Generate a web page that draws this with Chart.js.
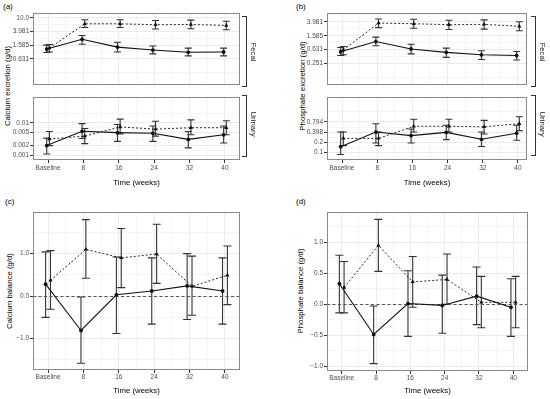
<!DOCTYPE html>
<html>
<head>
<meta charset="utf-8">
<script src="https://cdn.jsdelivr.net/npm/chart.js@4.4.1/dist/chart.umd.min.js"></script>
<style>
  body { margin: 0; background: #fff; width: 550px; height: 399px; position: relative; overflow: hidden;
         font-family: "Liberation Sans", Arial, sans-serif; -webkit-font-smoothing: antialiased; }
  canvas { position: absolute; }
  .lab { position: absolute; font-size: 8px; color: #000; line-height: 9px; }
  .yt { position: absolute; font-size: 7.8px; color: #000; white-space: nowrap; transform: translate(-50%, -50%) rotate(-90deg); }
  .strip { position: absolute; box-sizing: border-box; border: 1.2px solid #333; border-left: none; width: 5px; }
  .st { position: absolute; font-size: 7.8px; color: #1a1a1a; white-space: nowrap; transform: translate(-50%, -50%) rotate(90deg); filter: grayscale(1); }
</style>
</head>
<body>
<div class="lab" style="left:3px;top:2px">(a)</div>
<div class="lab" style="left:296px;top:2px">(b)</div>
<div class="lab" style="left:5px;top:197px">(c)</div>
<div class="lab" style="left:296px;top:197px">(d)</div>

<div class="yt" style="left:7px;top:86px">Calcium excretion (g/d)</div>
<div class="yt" style="left:302px;top:86px">Phosphate excretion (g/d)</div>
<div class="yt" style="left:9px;top:291px">Calcium balance (g/d)</div>
<div class="yt" style="left:300px;top:291px">Phosphate balance (g/d)</div>

<div class="strip" style="left:242px;top:16px;height:71px"></div>
<div class="strip" style="left:242px;top:95px;height:62px"></div>
<div class="strip" style="left:531px;top:16px;height:71px"></div>
<div class="strip" style="left:531px;top:95px;height:61px"></div>
<div class="st" style="left:253px;top:52px">Fecal</div>
<div class="st" style="left:253px;top:124px">Urinary</div>
<div class="st" style="left:542px;top:52px">Fecal</div>
<div class="st" style="left:542px;top:124px">Urinary</div>

<canvas id="aF" width="244" height="90" style="left:0;top:0"></canvas>
<canvas id="aU" width="244" height="106" style="left:0;top:92px"></canvas>
<canvas id="bF" width="256" height="90" style="left:275px;top:0"></canvas>
<canvas id="bU" width="256" height="106" style="left:275px;top:92px"></canvas>
<canvas id="c" width="244" height="194" style="left:0;top:205px"></canvas>
<canvas id="d" width="256" height="194" style="left:275px;top:205px"></canvas>

<script>
const weeks = [0, 8, 16, 24, 32, 40];
const xMajor = [0, 8, 16, 24, 32, 40];
const xLabels = ['Baseline', '8', '16', '24', '32', '40'];
const xMinor = [4, 12, 20, 28, 36];

// (a) calcium excretion - fecal
const caFecalSolid = [1.22, 2.35, 1.39, 1.14, 0.98, 1.0];
const caFecalSolidLo = [0.97, 1.69, 1.0, 0.88, 0.77, 0.77];
const caFecalSolidHi = [1.585, 3.05, 1.93, 1.5, 1.3, 1.3];
const caFecalDot = [1.3, 6.7, 6.7, 6.3, 6.4, 6.0];
const caFecalDotLo = [1.0, 5.2, 5.2, 4.7, 4.8, 4.5];
const caFecalDotHi = [1.66, 8.8, 8.8, 8.4, 8.6, 8.0];
const caFecalTicks = [0.631, 1.585, 3.981, 10];
const caFecalTickLabels = ['0.631', '1.585', '3.981', '10.0'];
const caFecalMinor = [0.251, 1, 2.512, 6.31];

// (a) calcium excretion - urinary
const caUrSolid = [0.0020, 0.0055, 0.0050, 0.0048, 0.0031, 0.0043];
const caUrSolidLo = [0.0011, 0.0033, 0.0027, 0.0027, 0.0017, 0.0024];
const caUrSolidHi = [0.0034, 0.0095, 0.0089, 0.0080, 0.0054, 0.0080];
const caUrDot = [0.0032, 0.0039, 0.0075, 0.0064, 0.0071, 0.0071];
const caUrDotLo = [0.0020, 0.0023, 0.0046, 0.0039, 0.0043, 0.0043];
const caUrDotHi = [0.0054, 0.0067, 0.0130, 0.0112, 0.0124, 0.0116];
const caUrTicks = [0.001, 0.002, 0.005, 0.01];
const caUrTickLabels = ['0.001', '0.002', '0.005', '0.01'];
const caUrMinor = [0.00141, 0.00316, 0.00707, 0.02];

// (b) phosphate excretion - fecal
const pFecalSolid = [0.55, 1.08, 0.66, 0.53, 0.45, 0.43];
const pFecalSolidLo = [0.43, 0.82, 0.48, 0.38, 0.33, 0.32];
const pFecalSolidHi = [0.73, 1.45, 0.90, 0.70, 0.59, 0.56];
const pFecalDot = [0.62, 3.66, 3.5, 3.28, 3.35, 2.96];
const pFecalDotLo = [0.45, 2.7, 2.6, 2.4, 2.45, 2.2];
const pFecalDotHi = [0.78, 4.8, 4.7, 4.4, 4.5, 4.0];
const pFecalTicks = [0.251, 0.631, 1.585, 3.981];
const pFecalTickLabels = ['0.251', '0.631', '1.585', '3.981'];
const pFecalMinor = [0.1, 0.398, 1, 2.512, 6.31];

// (b) phosphate excretion - urinary
const pUrSolid = [0.149, 0.40, 0.315, 0.39, 0.245, 0.37];
const pUrSolidLo = [0.088, 0.19, 0.19, 0.24, 0.15, 0.23];
const pUrSolidHi = [0.40, 0.70, 0.49, 0.63, 0.40, 0.63];
const pUrDot = [0.26, 0.26, 0.59, 0.59, 0.57, 0.70];
const pUrDotLo = [0.16, 0.16, 0.40, 0.40, 0.35, 0.44];
const pUrDotHi = [0.40, 0.40, 0.95, 0.95, 0.88, 1.13];
const pUrTicks = [0.1, 0.2, 0.398, 0.794];
const pUrTickLabels = ['0.1', '0.2', '0.398', '0.794'];
const pUrMinor = [0.141, 0.282, 0.562, 1.585, 3.162];

// (c) calcium balance
const caBalSolid = [0.28, -0.81, 0.03, 0.12, 0.24, 0.12];
const caBalSolidLo = [-0.50, -1.58, -0.88, -0.66, -0.55, -0.66];
const caBalSolidHi = [1.04, -0.02, 0.92, 0.90, 1.00, 0.90];
const caBalDot = [0.37, 1.10, 0.90, 0.99, 0.23, 0.49];
const caBalDotLo = [-0.31, 0.42, 0.20, 0.30, -0.45, -0.20];
const caBalDotHi = [1.07, 1.80, 1.59, 1.69, 0.94, 1.18];
const caBalTicks = [-1, 0, 1];
const caBalTickLabels = ['\u22121.0', '0.0', '1.0'];
const caBalMinor = [-1.5, -0.5, 0.5, 1.5];

// (d) phosphate balance
const pBalSolid = [0.33, -0.49, 0.01, -0.02, 0.13, -0.05];
const pBalSolidLo = [-0.14, -0.96, -0.52, -0.47, -0.33, -0.52];
const pBalSolidHi = [0.79, -0.03, 0.54, 0.47, 0.60, 0.41];
const pBalDot = [0.27, 0.95, 0.36, 0.40, 0.03, 0.03];
const pBalDotLo = [-0.14, 0.53, -0.05, 0.0, -0.38, -0.38];
const pBalDotHi = [0.69, 1.37, 0.77, 0.81, 0.45, 0.45];
const pBalTicks = [-1, -0.5, 0, 0.5, 1];
const pBalTickLabels = ['\u22121.0', '\u22120.5', '0.0', '0.5', '1.0'];
const pBalMinor = [-0.75, -0.25, 0.25, 0.75, 1.25];

const tickFont = { family: '"Liberation Sans", Arial, sans-serif', size: 6.5 };
const titleFont = { family: '"Liberation Sans", Arial, sans-serif', size: 7.8 };

// error bars drawn from each dataset's lo/hi arrays
const errorBars = {
  id: 'errorBars',
  beforeDatasetsDraw(chart, args, opts) {
    const { ctx, scales: { x, y } } = chart;
    ctx.save();
    ctx.strokeStyle = '#333';
    ctx.lineWidth = 1.1;
    chart.data.datasets.forEach(ds => {
      ds.data.forEach((p, i) => {
        const px = x.getPixelForValue(p.x);
        const top = y.getPixelForValue(ds.hi[i]);
        const bot = y.getPixelForValue(ds.lo[i]);
        ctx.beginPath();
        ctx.moveTo(px, top); ctx.lineTo(px, bot);
        ctx.moveTo(px - opts.cap, top); ctx.lineTo(px + opts.cap, top);
        ctx.moveTo(px - opts.cap, bot); ctx.lineTo(px + opts.cap, bot);
        ctx.stroke();
      });
    });
    ctx.restore();
  }
};

// panel border and optional dashed zero line
const frame = {
  id: 'frame',
  beforeDatasetsDraw(chart, args, opts) {
    if (!opts.zero) return;
    const { ctx, chartArea: a, scales: { y } } = chart;
    const py = Math.round(y.getPixelForValue(0)) + 0.5;
    ctx.save();
    ctx.strokeStyle = '#555';
    ctx.lineWidth = 1;
    ctx.setLineDash([3, 2.5]);
    ctx.beginPath();
    ctx.moveTo(a.left, py); ctx.lineTo(a.right, py);
    ctx.stroke();
    ctx.restore();
  },
  afterDraw(chart) {
    const { ctx, chartArea: a } = chart;
    ctx.save();
    ctx.strokeStyle = '#8a8a8a';
    ctx.lineWidth = 1;
    ctx.strokeRect(Math.round(a.left) + 0.5, Math.round(a.top) + 0.5,
                   Math.round(a.right - a.left) - 1, Math.round(a.bottom - a.top) - 1);
    ctx.restore();
  }
};

function tickList(major, labels, minor) {
  const list = major.map((v, i) => ({ value: v, txt: labels[i], isMajor: true }))
    .concat(minor.map(v => ({ value: v, txt: '', isMajor: false })));
  return list.sort((p, q) => p.value - q.value);
}

function series(vals, lo, hi, dotted, dodge) {
  return {
    data: weeks.map((w, i) => ({ x: w + (dotted ? dodge : -dodge), y: vals[i] })),
    lo: lo, hi: hi,
    borderColor: '#111',
    backgroundColor: '#111',
    borderWidth: dotted ? 0.9 : 1.1,
    borderDash: dotted ? [2, 2] : [],
    pointStyle: dotted ? 'triangle' : 'circle',
    pointRadius: dotted ? 2.4 : 1.9,
    pointBorderWidth: 0,
    tension: 0
  };
}

function panel(id, o) {
  const gridColor = c => (c.tick && c.tick.isMajor ? '#ebebeb' : '#f5f5f5');
  const tickColor = c => (c.tick && c.tick.isMajor ? '#333' : 'rgba(0,0,0,0)');
  new Chart(document.getElementById(id), {
    type: 'line',
    data: { datasets: o.datasets },
    options: {
      responsive: false,
      animation: false,
      layout: { autoPadding: false, padding: { top: o.padTop, right: o.padRight, bottom: 0, left: 0 } },
      plugins: {
        legend: { display: false },
        tooltip: { enabled: false },
        errorBars: { cap: o.cap },
        frame: { zero: o.zero }
      },
      scales: {
        x: {
          type: 'linear',
          min: o.xMin,
          max: o.xMax,
          afterBuildTicks: s => { s.ticks = tickList(xMajor, xLabels, xMinor); },
          afterFit: s => { s.height = o.xHeight; },
          border: { display: false },
          grid: { color: gridColor, tickColor: tickColor, tickLength: 3, drawTicks: o.showX },
          ticks: {
            display: o.showX, autoSkip: false, maxRotation: 0, padding: o.xPad,
            color: '#4d4d4d', font: tickFont,
            callback: (v, i, t) => t[i].txt
          },
          title: {
            display: o.showX, text: 'Time (weeks)', color: '#000', font: titleFont,
            padding: { top: 0, bottom: o.titlePad }
          }
        },
        y: {
          type: o.yType,
          min: o.yMin,
          max: o.yMax,
          afterBuildTicks: s => { s.ticks = tickList(o.yMajor, o.yLabels, o.yMinor); },
          afterFit: s => { s.width = o.yWidth; },
          border: { display: false },
          grid: { color: gridColor, tickColor: tickColor, tickLength: 3 },
          ticks: {
            autoSkip: false, padding: 1, color: '#4d4d4d', font: tickFont,
            callback: (v, i, t) => t[i].txt
          }
        }
      }
    },
    plugins: [errorBars, frame]
  });
}

const dodgeA = 0.3, dodgeC = 0.55;

panel('aF', {
  datasets: [series(caFecalSolid, caFecalSolidLo, caFecalSolidHi, false, dodgeA),
             series(caFecalDot, caFecalDotLo, caFecalDotHi, true, dodgeA)],
  yType: 'logarithmic', yMin: 0.107, yMax: 13.9,
  yMajor: caFecalTicks, yLabels: caFecalTickLabels, yMinor: caFecalMinor,
  xMin: -3.4, xMax: 43.4, showX: false, xHeight: 0, xPad: 1, titlePad: 0,
  yWidth: 33, padTop: 13, padRight: 4, cap: 3.5, zero: false
});
panel('aU', {
  datasets: [series(caUrSolid, caUrSolidLo, caUrSolidHi, false, dodgeA),
             series(caUrDot, caUrDotLo, caUrDotHi, true, dodgeA)],
  yType: 'logarithmic', yMin: 0.00072, yMax: 0.063,
  yMajor: caUrTicks, yLabels: caUrTickLabels, yMinor: caUrMinor,
  xMin: -3.4, xMax: 43.4, showX: true, xHeight: 38, xPad: 1, titlePad: 10.3,
  yWidth: 33, padTop: 0, padRight: 4, cap: 3.5, zero: false
});
panel('bF', {
  datasets: [series(pFecalSolid, pFecalSolidLo, pFecalSolidHi, false, dodgeA),
             series(pFecalDot, pFecalDotLo, pFecalDotHi, true, dodgeA)],
  yType: 'logarithmic', yMin: 0.061, yMax: 7.1,
  yMajor: pFecalTicks, yLabels: pFecalTickLabels, yMinor: pFecalMinor,
  xMin: -3.41, xMax: 42.05, showX: false, xHeight: 0, xPad: 1, titlePad: 0,
  yWidth: 52, padTop: 13, padRight: 4, cap: 3.5, zero: false
});
panel('bU', {
  datasets: [series(pUrSolid, pUrSolidLo, pUrSolidHi, false, dodgeA),
             series(pUrDot, pUrDotLo, pUrDotHi, true, dodgeA)],
  yType: 'logarithmic', yMin: 0.0605, yMax: 4.3,
  yMajor: pUrTicks, yLabels: pUrTickLabels, yMinor: pUrMinor,
  xMin: -3.41, xMax: 42.05, showX: true, xHeight: 38, xPad: 1, titlePad: 10.3,
  yWidth: 52, padTop: 0, padRight: 4, cap: 3.5, zero: false
});
panel('c', {
  datasets: [series(caBalSolid, caBalSolidLo, caBalSolidHi, false, dodgeC),
             series(caBalDot, caBalDotLo, caBalDotHi, true, dodgeC)],
  yType: 'linear', yMin: -1.74, yMax: 1.98,
  yMajor: caBalTicks, yLabels: caBalTickLabels, yMinor: caBalMinor,
  xMin: -3.4, xMax: 43.4, showX: true, xHeight: 29, xPad: 0, titlePad: 3.3,
  yWidth: 33, padTop: 7, padRight: 4, cap: 4, zero: true
});
panel('d', {
  datasets: [series(pBalSolid, pBalSolidLo, pBalSolidHi, false, dodgeC),
             series(pBalDot, pBalDotLo, pBalDotHi, true, dodgeC)],
  yType: 'linear', yMin: -1.08, yMax: 1.49,
  yMajor: pBalTicks, yLabels: pBalTickLabels, yMinor: pBalMinor,
  xMin: -3.43, xMax: 43.43, showX: true, xHeight: 28, xPad: 0, titlePad: 3.3,
  yWidth: 52, padTop: 7, padRight: 3, cap: 4, zero: true
});
</script>
</body>
</html>
